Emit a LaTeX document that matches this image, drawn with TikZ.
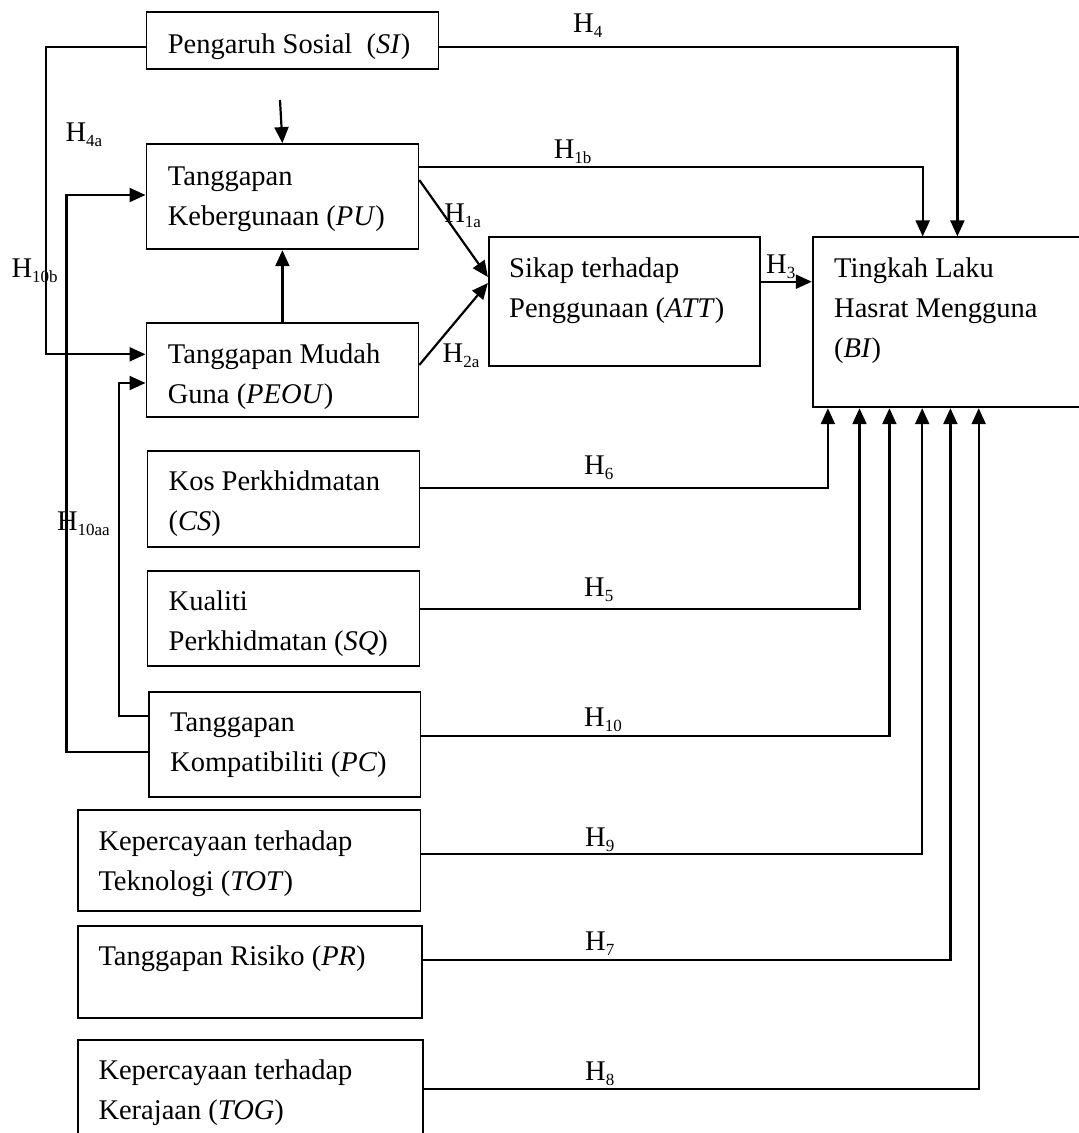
\documentclass[tikz,border=0pt]{standalone}
\usepackage{fontspec}
\setmainfont{Liberation Serif}
\usetikzlibrary{arrows.meta,fit}
\newcommand{\boxtext}[1]{\begin{tabular}[t]{@{}l@{}}#1\end{tabular}}
\newcommand{\Hs}[1]{H\raisebox{-5pt}{\fontsize{17}{17}\selectfont #1}}
\begin{document}
\begin{tikzpicture}[x=1pt,y=-1pt,
  box/.style={draw, line width=1.8pt, inner sep=0pt},
  txt/.style={anchor=base west, inner sep=0pt, font=\fontsize{28.5}{40}\selectfont},
  hlab/.style={anchor=base west, inner sep=0pt, font=\fontsize{28.5}{34}\selectfont},
  arr/.style={line width=2.2pt, -{Triangle[length=16pt,width=14pt]}}]
\useasboundingbox (0,0) rectangle (1079,1133);
\clip (0,0) rectangle (1079,1133);
% boxes
\node[box, fit={(146.4,12.3) (438.4,69.3)}] (si) {};
\node[box, fit={(146.4,144) (418.4,249.3)}] (pu) {};
\node[box, fit={(146.4,323) (418.4,416.7)}] (peou) {};
\node[box, fit={(488.8,236.7) (760.3,365.7)}] (att) {};
\node[box, fit={(812.7,237.3) (1100,407.3)}] (bi) {};
\node[box, fit={(147.4,450.7) (419.4,547.3)}] (cs) {};
\node[box, fit={(147.4,571) (419.4,666)}] (sq) {};
\node[box, fit={(148.8,692) (420.5,796.7)}] (pc) {};
\node[box, fit={(77.8,810) (420.5,910.7)}] (tot) {};
\node[box, fit={(77.8,926) (421.9,1017.7)}] (pr) {};
\node[box, fit={(77.8,1039.7) (422.6,1160)}] (tog) {};
% box texts
\node[txt] (si-t) at (167.7,53) {Pengaruh Sosial\ \ (\textit{SI})};
\node[txt] (pu-t) at (167.7,185) {\boxtext{Tanggapan\\Kebergunaan (\textit{PU})}};
\node[txt] (peou-t) at (167.7,363) {\boxtext{Tanggapan Mudah\\Guna (\textit{PEOU})}};
\node[txt] (att-t) at (509,277) {\boxtext{Sikap terhadap\\Penggunaan (\textit{ATT})}};
\node[txt] (bi-t) at (834,277) {\boxtext{Tingkah Laku\\Hasrat Mengguna\\(\textit{BI})}};
\node[txt] (cs-t) at (168.5,490) {\boxtext{Kos Perkhidmatan\\(\textit{CS})}};
\node[txt] (sq-t) at (168.5,610) {\boxtext{Kualiti\\Perkhidmatan (\textit{SQ})}};
\node[txt] (pc-t) at (170,731.7) {\boxtext{Tanggapan\\Kompatibiliti (\textit{PC})}};
\node[txt] (tot-t) at (98.3,850) {\boxtext{Kepercayaan terhadap\\Teknologi (\textit{TOT})}};
\node[txt] (pr-t) at (98.3,965) {Tanggapan Risiko (\textit{PR})};
\node[txt] (tog-t) at (98.3,1079.7) {\boxtext{Kepercayaan terhadap\\Kerajaan (\textit{TOG})}};
% bend coordinates
\coordinate (k4) at (957.4,46.7);
\coordinate (k4a) at (45.8,46.7);
\coordinate (k4a2) at (45.8,354.3);
\coordinate (free) at (280,100);
\coordinate (k10b1) at (66.5,752);
\coordinate (k10b2) at (66.5,195);
\coordinate (k10a1) at (118.8,715.7);
\coordinate (k10a2) at (118.8,383);
\coordinate (s1a) at (0,180);
\coordinate (t1a) at (0,277);
\coordinate (s2a) at (0,365);
\coordinate (t2a) at (0,283);
\coordinate (k1b) at (922.7,166.7);
\coordinate (k3) at (0,281.7);
\coordinate (k6) at (827.9,488.3);
\coordinate (k5) at (859.5,609);
\coordinate (k10) at (889.4,735.7);
\coordinate (k9) at (922.2,853.7);
\coordinate (k7) at (950.4,960.3);
\coordinate (k8) at (978.7,1089.3);
% connectors
\draw[arr] (si.east |- k4) -- (k4) -- (bi.north -| k4);
\draw[arr] (si.west |- k4a) -- (k4a) -- (k4a2) -- (peou.west |- k4a2);
\draw[arr] (free) -- (pu.north);
\draw[arr] (pc.west |- k10b1) -- (k10b1) -- (k10b2) -- (pu.west |- k10b2);
\draw[arr] (pc.west |- k10a1) -- (k10a1) -- (k10a2) -- (peou.west |- k10a2);
\draw[arr] (peou.north) -- (pu.south);
\draw[arr] (pu.east |- s1a) -- (att.west |- t1a);
\draw[arr] (peou.east |- s2a) -- (att.west |- t2a);
\draw[arr] (pu.east |- k1b) -- (k1b) -- (bi.north -| k1b);
\draw[arr] (att.east |- k3) -- (bi.west |- k3);
\draw[arr] (cs.east |- k6) -- (k6) -- (bi.south -| k6);
\draw[arr] (sq.east |- k5) -- (k5) -- (bi.south -| k5);
\draw[arr] (pc.east |- k10) -- (k10) -- (bi.south -| k10);
\draw[arr] (tot.east |- k9) -- (k9) -- (bi.south -| k9);
\draw[arr] (pr.east |- k7) -- (k7) -- (bi.south -| k7);
\draw[arr] (tog.east |- k8) -- (k8) -- (bi.south -| k8);
% hypothesis labels
\node[hlab] (h4) at (573,32.5) {\Hs{4}};
\node[hlab] (h4a) at (65.4,141.7) {\Hs{4a}};
\node[hlab] (h10b) at (11.4,277) {\Hs{10b}};
\node[hlab] (h1b) at (553.7,158) {\Hs{1b}};
\node[hlab] (h1a) at (444.2,222) {\Hs{1a}};
\node[hlab] (h2a) at (442.5,362) {\Hs{2a}};
\node[hlab] (h3) at (766,273) {\Hs{3}};
\node[hlab] (h10aa) at (56.8,530.7) {\Hs{10aa}};
\node[hlab] (h6) at (584,474) {\Hs{6}};
\node[hlab] (h5) at (584,596) {\Hs{5}};
\node[hlab] (h10) at (584,726.7) {\Hs{10}};
\node[hlab] (h9) at (585,846.7) {\Hs{9}};
\node[hlab] (h7) at (585,950) {\Hs{7}};
\node[hlab] (h8) at (585,1080) {\Hs{8}};
\end{tikzpicture}
\end{document}
